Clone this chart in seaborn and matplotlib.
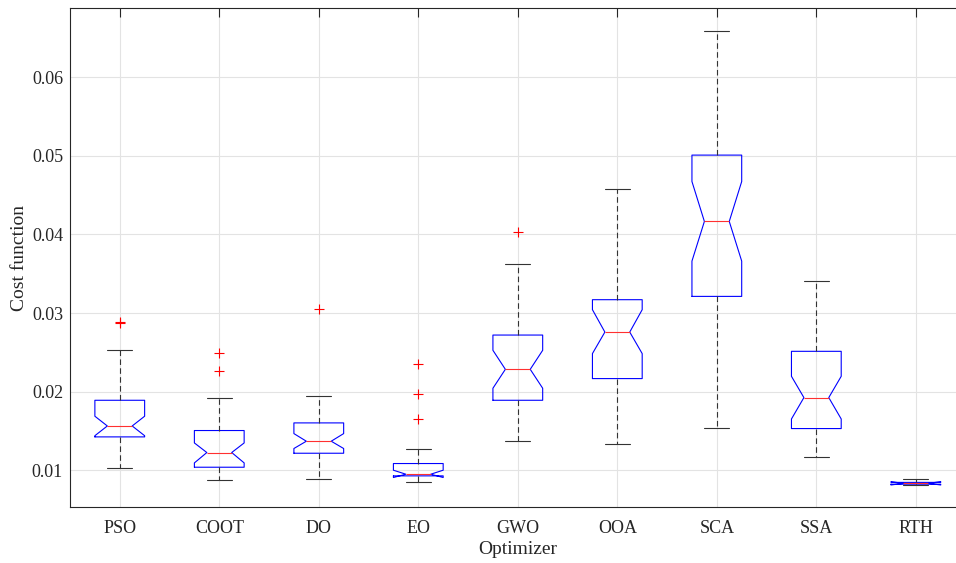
import matplotlib
matplotlib.use('Agg')
import matplotlib.pyplot as plt
import seaborn as sns
import pandas as pd

# values
optimizers = ['PSO', 'COOT', 'DO', 'EO', 'GWO', 'OOA', 'SCA', 'SSA', 'RTH']
q1 = [0.01424, 0.01038, 0.01216, 0.00928, 0.0189, 0.02166, 0.03212, 0.0153, 0.00822]
median = [0.01563, 0.01225, 0.01369, 0.00949, 0.02284, 0.02758, 0.04166, 0.01924, 0.00833]
q3 = [0.0189, 0.01505, 0.01602, 0.01085, 0.0272, 0.0317, 0.0501, 0.02513, 0.00845]
whisker_low = [0.01025, 0.00873, 0.00886, 0.00847, 0.01369, 0.01335, 0.01543, 0.01169, 0.0081]
whisker_high = [0.0253, 0.01915, 0.0195, 0.01276, 0.03623, 0.04573, 0.06586, 0.03403, 0.00882]
notch_low = [0.01439, 0.01093, 0.01276, 0.00907, 0.02043, 0.02484, 0.03661, 0.01652, 0.00812]
notch_high = [0.01687, 0.01347, 0.01466, 0.0100, 0.02526, 0.03043, 0.04674, 0.02195, 0.00854]
outliers = [
    [0.0289, 0.02875],
    [0.02491, 0.02263],
    [0.03056],
    [0.02348, 0.01975, 0.01648],
    [0.0403],
    [], [], [], [],
]
y_ticks = [0.01, 0.02, 0.03, 0.04, 0.05, 0.06]

sns.set_style('white')
plt.rcParams['font.family'] = ['Liberation Serif', 'DejaVu Serif']

fig = plt.figure(figsize=(9.56, 5.63), dpi=100)
ax = fig.add_axes([70 / 956, 1 - 507.3 / 563, (965.6 - 70) / 956, (507.3 - 8) / 563])

positions = list(range(1, len(optimizers) + 1))

# box statistics for matplotlib's bxp
stats = []
for i, name in enumerate(optimizers):
    stats.append({
        'label': name,
        'q1': q1[i], 'med': median[i], 'q3': q3[i],
        'whislo': whisker_low[i], 'whishi': whisker_high[i],
        'cilo': notch_low[i], 'cihi': notch_high[i],
        'fliers': [],
    })

ax.bxp(stats, positions=positions, widths=0.5, capwidths=0.25,
       shownotches=True, showfliers=False, manage_ticks=False,
       boxprops=dict(color='#0000ff', linewidth=0.8),
       medianprops=dict(color='#ff3030', linewidth=0.8),
       whiskerprops=dict(color='#333333', linewidth=0.8, linestyle=(0, (5, 3))),
       capprops=dict(color='#333333', linewidth=0.8))

# outliers as red plus signs
flier_df = pd.DataFrame({
    'pos': [positions[i] for i, vals in enumerate(outliers) for _ in vals],
    'value': [v for vals in outliers for v in vals],
})
sns.scatterplot(data=flier_df, x='pos', y='value', marker='+', color='#ff0000',
                s=50, linewidth=0.8, ax=ax, zorder=3)

ax.set_xlim(0.5, 9.5)
ax.set_ylim(0.00528, 0.06882)
ax.set_xticks(positions)
ax.set_xticklabels(optimizers)
ax.set_yticks(y_ticks)
ax.set_yticklabels(['%.2f' % t for t in y_ticks])

ax.grid(True, color='#e3e3e3', linewidth=0.8)
ax.set_axisbelow(True)
for s in ax.spines.values():
    s.set_color('#262626')
    s.set_linewidth(0.8)

ax.tick_params(axis='both', direction='in', length=6.5, width=0.8, color='#262626',
               labelsize=13, labelcolor='#262626', top=True, right=True)
ax.tick_params(axis='x', pad=9)
ax.tick_params(axis='y', pad=5)

ax.set_xlabel('Optimizer', fontsize=14, color='#262626', labelpad=3)
ax.set_ylabel('Cost function', fontsize=14, color='#262626', labelpad=3)

fig.savefig('out.png', dpi=100)
